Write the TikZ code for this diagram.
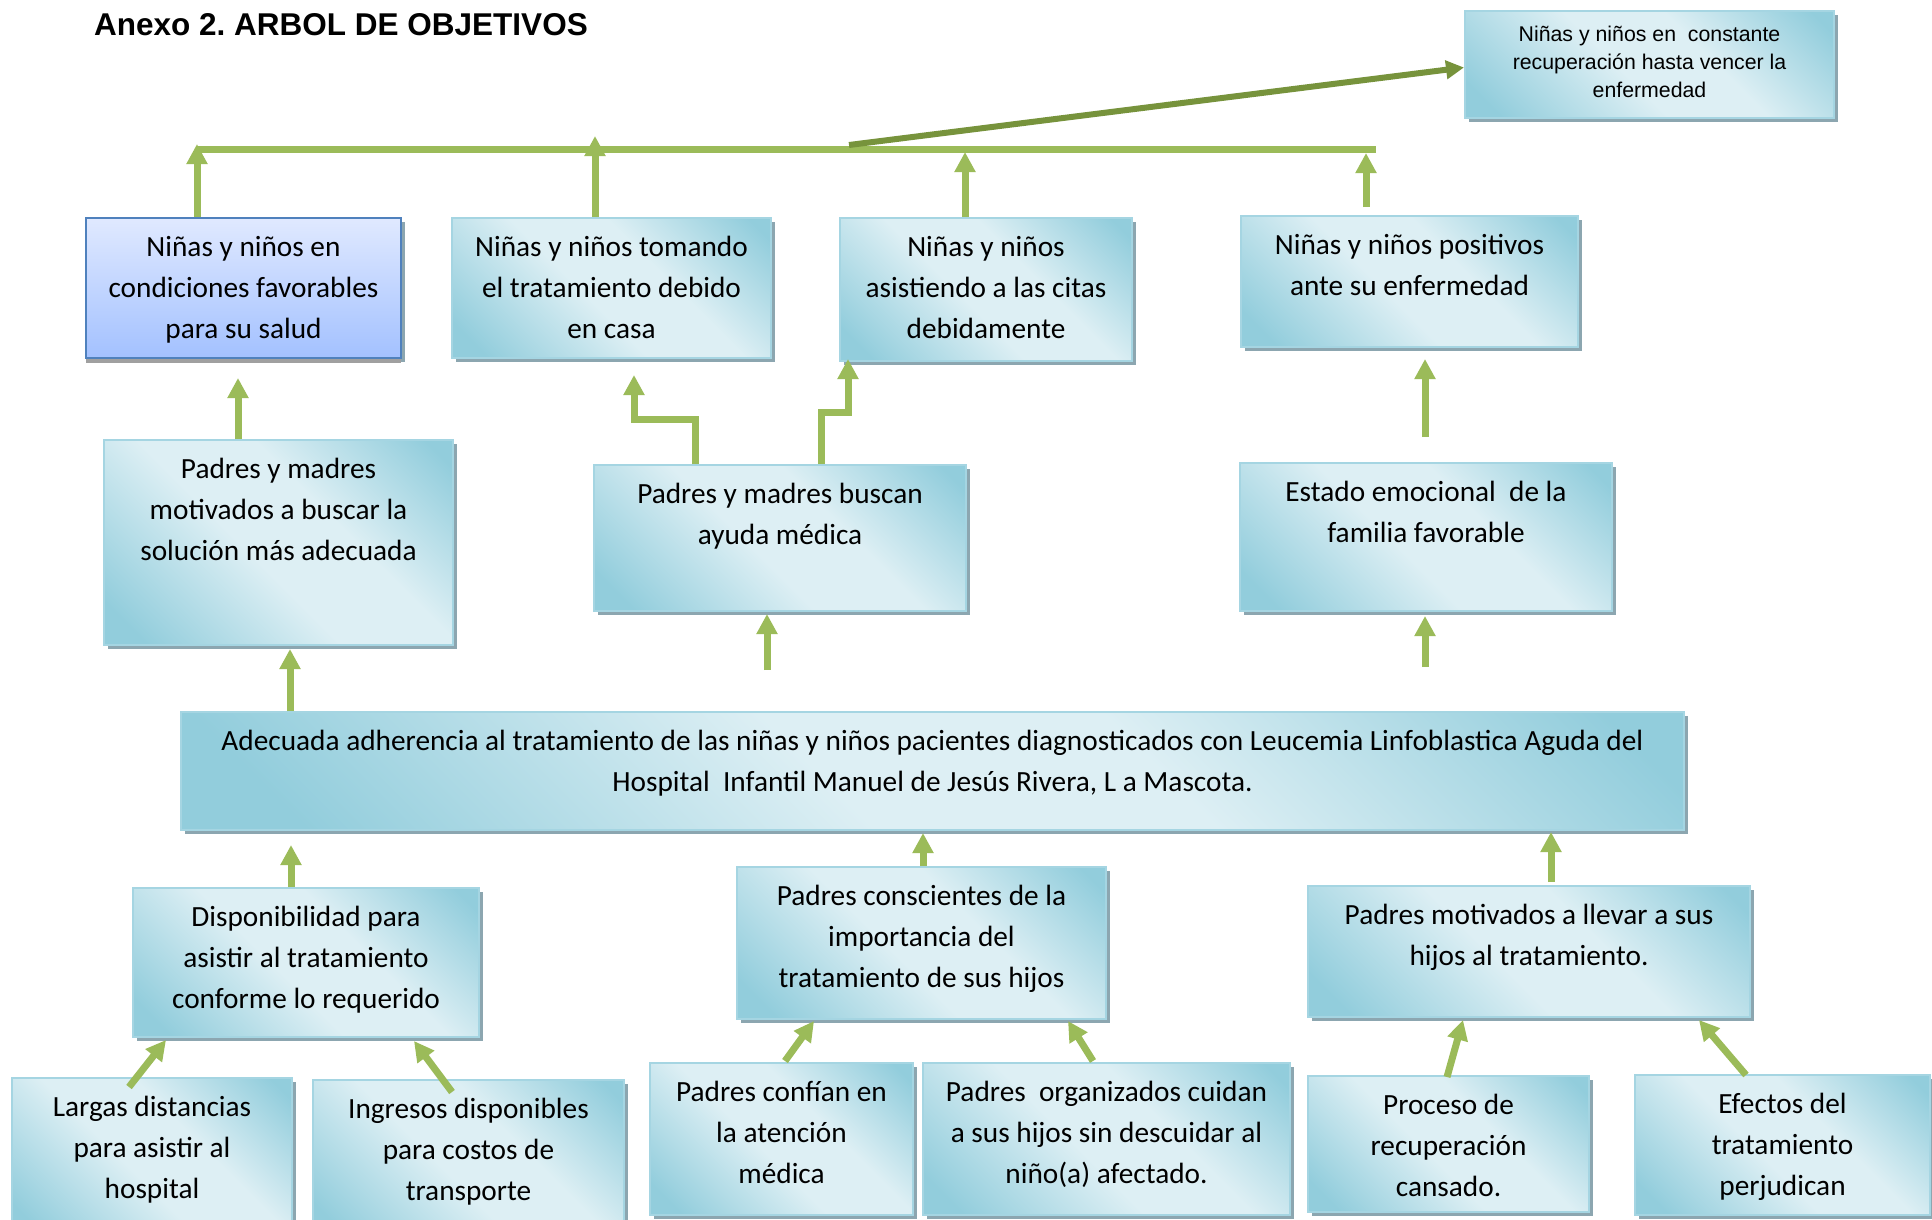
\documentclass[tikz,border=0pt]{standalone}
\usepackage{fontspec}
\usepackage{tikz}
\usetikzlibrary{arrows.meta,shadows}
\setmainfont{Carlito}
\newfontfamily\arialfont{Liberation Sans}
\frenchspacing
\newcommand{\objfont}{\fontsize{29.3}{41}\selectfont}
\newcommand{\goalfont}{\arialfont\fontsize{21.3}{28}\selectfont}
\newcommand{\titlefont}{\arialfont\bfseries\fontsize{31.5}{36}\selectfont}
\definecolor{boxdark}{RGB}{146,205,220}
\definecolor{boxlight}{RGB}{221,239,244}
\definecolor{boxedge}{RGB}{165,213,226}
\definecolor{boxshadow}{RGB}{140,166,176}
\definecolor{focustop}{RGB}{224,233,255}
\definecolor{focusbottom}{RGB}{163,193,255}
\definecolor{focusedge}{RGB}{79,129,189}
\definecolor{focusshadow}{RGB}{160,160,160}
\definecolor{linegreen}{RGB}{155,187,89}
\definecolor{darkgreen}{RGB}{119,147,60}
\pgfdeclarehorizontalshading{tealglow}{100bp}{color(0bp)=(boxdark); color(20bp)=(boxdark); color(45bp)=(boxlight); color(60bp)=(boxlight); color(82bp)=(boxdark); color(100bp)=(boxdark)}

\begin{document}
\begin{tikzpicture}[x=1pt,y=1pt]
\tikzstyle{every node}+=[inner sep=0pt]
\tikzstyle{objbox}=[draw=boxedge, line width=2pt, shading=tealglow, shading angle=45, general shadow={fill=boxshadow, shadow xshift=4pt, shadow yshift=-4pt}, anchor=north west, align=flush center, text height=38pt, font=\objfont]
\tikzstyle{focusbox}=[objbox, draw=focusedge, top color=focustop, bottom color=focusbottom, general shadow={fill=focusshadow, shadow xshift=0pt, shadow yshift=-5pt}]
\tikzstyle{goalbox}=[objbox, text height=31pt, font=\goalfont]
\tikzstyle{uparrow}=[draw=linegreen, line width=7pt, -{Triangle[width=20pt,length=20pt]}]
\tikzstyle{goalarrow}=[draw=darkgreen, line width=6pt, -{Triangle[width=18pt,length=18pt]}]
\useasboundingbox (0,0) rectangle (1932,-1220);
\node [anchor=base west, font=\titlefont] (title) at (94,-36) {Anexo 2. ARBOL DE OBJETIVOS};
\node [goalbox, text width=369pt, text depth=76pt] (goal) at (1464,-10) {Niñas y niños en\ \ constante\\recuperación hasta vencer la\\enfermedad};
\node [focusbox, text width=315pt, text depth=102pt] (a1) at (85,-217) {Niñas y niños en\\condiciones favorables\\para su salud};
\node [objbox, text width=319pt, text depth=102pt] (a2) at (451,-217) {Niñas y niños tomando\\el tratamiento debido\\en casa};
\node [objbox, text width=292pt, text depth=105pt] (a3) at (839,-217) {Niñas y niños\\asistiendo a las citas\\debidamente};
\node [objbox, text width=337pt, text depth=93pt] (a4) at (1240,-215) {Niñas y niños positivos\\ante su enfermedad};
\node [objbox, text width=349pt, text depth=167pt] (b1) at (103,-439) {Padres y madres\\motivados a buscar la\\solución más adecuada};
\node [objbox, text width=372pt, text depth=108pt] (b2) at (593,-464) {Padres y madres buscan\\ayuda médica};
\node [objbox, text width=372pt, text depth=110pt] (b3) at (1239,-462) {Estado emocional\ \ de la\\familia favorable};
\node [objbox, text width=1503pt, text depth=80pt] (c) at (180,-711) {Adecuada adherencia al tratamiento de las niñas y niños pacientes diagnosticados con Leucemia Linfoblastica Aguda del\\Hospital\ \ Infantil Manuel de Jesús Rivera, L a Mascota.};
\node [objbox, text width=346pt, text depth=111pt] (d1) at (132,-887) {Disponibilidad para\\asistir al tratamiento\\conforme lo requerido};
\node [objbox, text width=369pt, text depth=114pt] (d2) at (736,-866) {Padres conscientes de la\\importancia del\\tratamiento de sus hijos};
\node [objbox, text width=442pt, text depth=93pt] (d3) at (1307,-885) {Padres motivados a llevar a sus\\hijos al tratamiento.};
\node [objbox, text width=280pt, text depth=122pt] (e1) at (11,-1077) {Largas distancias\\para asistir al\\hospital};
\node [objbox, text width=311pt, text depth=122pt] (e2) at (312,-1079) {Ingresos disponibles\\para costos de\\transporte};
\node [objbox, text width=263pt, text depth=114pt] (e3) at (649,-1062) {Padres confían en\\la atención\\médica};
\node [objbox, text width=367pt, text depth=114pt] (e4) at (922,-1062) {Padres\ \ organizados cuidan\\a sus hijos sin descuidar al\\niño(a) afectado.};
\node [objbox, text width=281pt, text depth=98pt] (e5) at (1307,-1075) {Proceso de\\recuperación\\cansado.};
\node [objbox, text width=295pt, text depth=102pt] (e6) at (1634,-1074) {Efectos del\\tratamiento\\perjudican};
\coordinate (barL) at (196,-149);
\coordinate (barR) at (1376,-149);
\coordinate (barM) at (849,-145);
\draw [draw=linegreen, line width=7pt] (barL) -- (barR);
\draw [goalarrow] (barM) -- ([yshift=-3pt]goal.west);
\draw [uparrow] ([xshift=112pt]a1.north west) -- ([xshift=1pt,yshift=5pt]barL);
\draw [uparrow] ([xshift=144pt]a2.north west) -- ([xshift=399pt,yshift=13pt]barL);
\draw [uparrow] ([xshift=126pt]a3.north west) -- ([xshift=769pt,yshift=-3pt]barL);
\draw [uparrow] ([xshift=126pt,yshift=8pt]a4.north west) -- ([xshift=-10pt,yshift=-4pt]barR);
\draw [uparrow] ([xshift=135pt]b1.north west) -- ([xshift=153pt,yshift=-19pt]a1.south west);
\draw [uparrow] ([xshift=102pt]b2.north west) -- ++(0,45) -| ([xshift=183pt,yshift=-16pt]a2.south west);
\draw [uparrow] ([xshift=228pt]b2.north west) -- ++(0,52) -| ([xshift=9pt,yshift=3pt]a3.south west);
\draw [uparrow] ([xshift=186pt,yshift=25pt]b3.north west) -- ([xshift=185pt,yshift=-11pt]a4.south west);
\draw [uparrow] ([xshift=110pt]c.north west) -- ([xshift=187pt,yshift=-3pt]b1.south west);
\draw [uparrow] ([xshift=587pt,yshift=41pt]c.north west) -- ([xshift=174pt,yshift=-2pt]b2.south west);
\draw [uparrow] ([xshift=1245pt,yshift=44pt]c.north west) -- ([xshift=186pt,yshift=-4pt]b3.south west);
\draw [uparrow] ([xshift=159pt]d1.north west) -- ([xshift=111pt,yshift=-14pt]c.south west);
\draw [uparrow] ([xshift=187pt]d2.north west) -- ([xshift=743pt,yshift=-2pt]c.south west);
\draw [uparrow] ([xshift=244pt,yshift=3pt]d3.north west) -- ([xshift=1371pt,yshift=-1pt]c.south west);
\draw [uparrow] ([xshift=118pt,yshift=-10pt]e1.north west) -- ([xshift=34pt,yshift=-2pt]d1.south west);
\draw [uparrow] ([xshift=140pt,yshift=-13pt]e2.north west) -- ([xshift=282pt,yshift=-3pt]d1.south west);
\draw [uparrow] ([xshift=136pt,yshift=1pt]e3.north west) -- ([xshift=78pt,yshift=-1pt]d2.south west);
\draw [uparrow] ([xshift=171pt,yshift=1pt]e4.north west) -- ([xshift=332pt,yshift=-1pt]d2.south west);
\draw [uparrow] ([xshift=140pt,yshift=-2pt]e5.north west) -- ([xshift=156pt,yshift=-2pt]d3.south west);
\draw [uparrow] ([xshift=112pt,yshift=-1pt]e6.north west) -- ([xshift=392pt,yshift=-2pt]d3.south west);
\end{tikzpicture}
\end{document}
